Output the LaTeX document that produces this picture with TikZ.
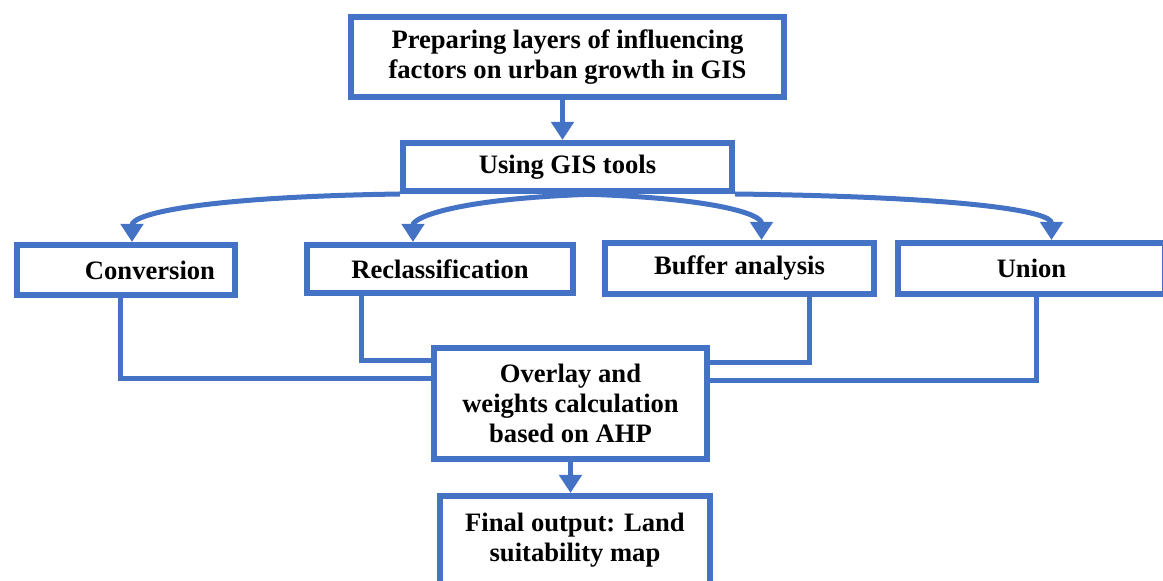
\documentclass[tikz,border=0pt]{standalone}
\usepackage{fontspec}
\setmainfont{Liberation Serif}
\usetikzlibrary{calc}
\usetikzlibrary{arrows.meta}
\definecolor{gisblue}{HTML}{4472C4}
\tikzset{
	boxstyle/.style={rectangle, draw=gisblue, line width=3pt, fill=white, align=center,
		inner sep=0pt, font=\fontsize{13.3}{14.8}\selectfont\bfseries},
	linkstyle/.style={draw=gisblue, line width=2.5pt},
	flowstyle/.style={draw=gisblue, line width=2.5pt, -{Triangle[width=11pt,length=9pt]}}
}

\begin{document}
\begin{tikzpicture}[x=0.5pt, y=-0.5pt]
	\useasboundingbox (0,0) rectangle (1163,581);
	\node[boxstyle, minimum width=216.5pt, minimum height=40pt] (prep) at (567.5,57) {Preparing layers of influencing\\factors on urban growth in GIS};
	\node[boxstyle, minimum width=164.5pt, minimum height=24pt] (gis) at (567.5,167) {Using GIS tools};
	\node[boxstyle, minimum width=109pt, minimum height=25pt] (conv) at (126,270) {\hspace*{24pt}Conversion};
	\node[boxstyle, minimum width=133pt, minimum height=24pt] (recl) at (440,269) {Reclassification};
	\node[boxstyle, minimum width=134.5pt, minimum height=25.5pt] (buf) at (739.5,268.5) {Buffer analysis};
	\node[boxstyle, minimum width=133.5pt, minimum height=25.5pt] (uni) at (1031.5,268.5) {Union};
	\node[boxstyle, minimum width=136.5pt, minimum height=55.5pt] (ovl) at (570.5,403.5) {Overlay and\\weights calculation\\based on AHP};
	\node[boxstyle, minimum width=135pt, minimum height=44pt] (fin) at (575,540) {Final output: Land\\suitability map};
	% top to tools
	\draw[flowstyle] ($(prep.south)+(-5,0)$) -- ($(gis.north)+(-5,0)$);
	% tools to the four operations
	\draw[flowstyle] (gis.south west) .. controls +(-200,3) and +(0,-28) .. ($(conv.north)+(6,0)$);
	\draw[flowstyle] ($(gis.south)+(32,0)$) .. controls +(-140,4) and +(0,-25) .. ($(recl.north)+(-27,0)$);
	\draw[flowstyle] ($(gis.south)+(12,0)$) .. controls +(140,4) and +(0,-25) .. ($(buf.north)+(22,0)$);
	\draw[flowstyle] (gis.south east) .. controls +(240,3) and +(0,-28) .. ($(uni.north)+(20,0)$);
	% operations to overlay
	\draw[linkstyle] ($(conv.south)+(-6,0)$) |- ($(ovl.west)+(0,-25)$);
	\draw[linkstyle] ($(recl.south)+(-79,0)$) |- ($(ovl.west)+(0,-43)$);
	\draw[linkstyle] ($(buf.south)+(70,0)$) |- ($(ovl.east)+(0,-41)$);
	\draw[linkstyle] ($(uni.south)+(5,0)$) |- ($(ovl.east)+(0,-23)$);
	% overlay to output
	\draw[flowstyle] (ovl.south) -- (ovl.south |- fin.north);
\end{tikzpicture}
\end{document}
